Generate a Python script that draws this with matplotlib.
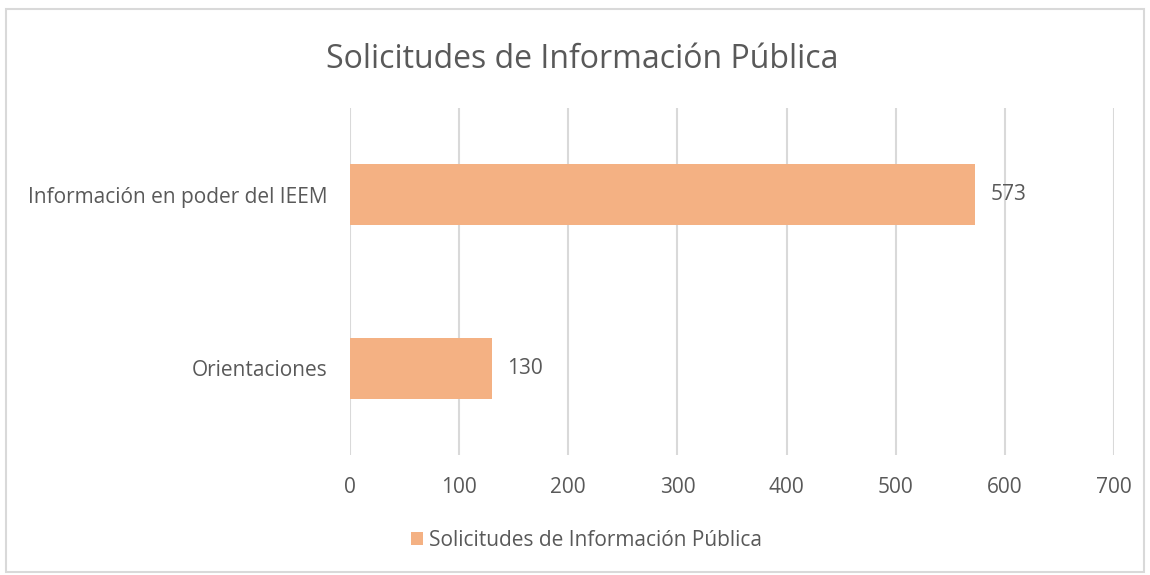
import matplotlib.pyplot as plt
from matplotlib.patches import Rectangle

categories = ['Orientaciones', 'Información en poder del IEEM']
values = [130, 573]
series_name = 'Solicitudes de Información Pública'
xticks = [0, 100, 200, 300, 400, 500, 600, 700]

bar_color = '#F4B183'
text_color = '#595959'
grid_color = '#D9D9D9'

plt.rcParams['font.family'] = ['Open Sans', 'DejaVu Sans']

fig = plt.figure(figsize=(11.5, 5.75), dpi=100)
ax = fig.add_axes([0.3043, 0.2087, 0.6644, 0.6035])

bars = ax.barh(range(len(categories)), values, height=0.35, color=bar_color,
               label=series_name, zorder=3)
ax.set_xlim(0, 700)
ax.set_ylim(-0.5, 1.5)
ax.set_xticks(xticks)
ax.set_yticks(range(len(categories)))
ax.set_yticklabels(categories)
ax.grid(axis='x', color=grid_color, linewidth=1.5, zorder=0)
for s in ax.spines.values():
    s.set_visible(False)
ax.tick_params(length=0, labelsize=15, colors=text_color)
ax.tick_params(axis='x', pad=16)
ax.tick_params(axis='y', pad=16)

for b, v in zip(bars, values):
    ax.text(v + 14, b.get_y() + b.get_height() / 2, str(v), va='center',
            ha='left', fontsize=15, color=text_color)

fig.suptitle(series_name, x=0.506, y=0.926, fontsize=23, color=text_color)
fig.legend(loc='center', bbox_to_anchor=(0.51, 0.06), frameon=False,
           fontsize=15, labelcolor=text_color, handlelength=0.6, handleheight=0.6,
           handletextpad=0.3)

fig.patches.append(Rectangle((0.005, 0.005), 0.99, 0.98, transform=fig.transFigure,
                             fill=False, edgecolor='#D9D9D9', linewidth=1.5))

fig.savefig('out.png', dpi=100)
